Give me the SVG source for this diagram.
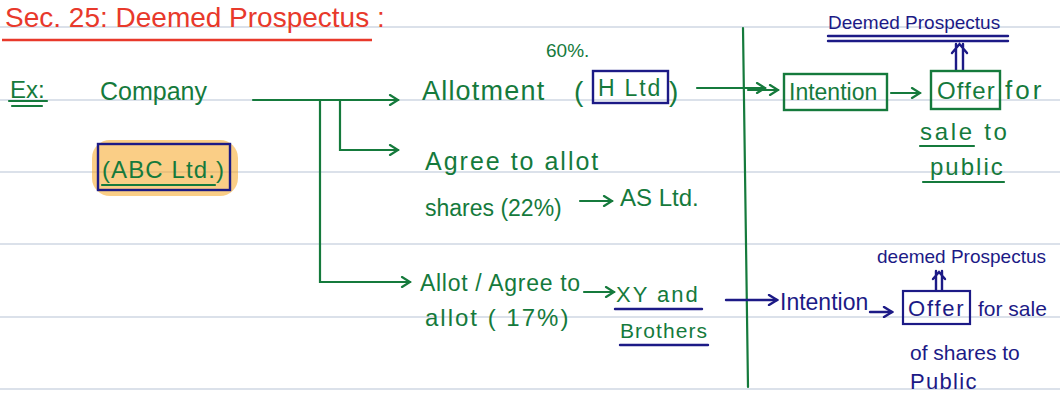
<svg xmlns="http://www.w3.org/2000/svg" width="1060" height="395" viewBox="0 0 1060 395">
<style>
.t{font-family:"Liberation Sans",Arial,sans-serif}
.g{fill:#157a3c}
.n{fill:#1c1a86}
.r{fill:#e8392b}
.gs{stroke:#157a3c;stroke-width:2.2;fill:none;stroke-linecap:round}
.ns{stroke:#1c1a86;stroke-width:2.4;fill:none;stroke-linecap:round}
.rule{stroke:#b7c3d6;stroke-width:1.2}
</style>
<defs>
<marker id="ag" markerWidth="12" markerHeight="12" refX="10" refY="6" orient="auto" markerUnits="userSpaceOnUse"><path d="M2,1 L10,6 L2,11" fill="none" stroke="#157a3c" stroke-width="2.2" stroke-linecap="round"/></marker>
<marker id="an" markerWidth="12" markerHeight="12" refX="10" refY="6" orient="auto" markerUnits="userSpaceOnUse"><path d="M2,1 L10,6 L2,11" fill="none" stroke="#1c1a86" stroke-width="2.4" stroke-linecap="round"/></marker>
</defs>
<rect width="1060" height="395" fill="#fff"/>
<g id="rules">
<line class="rule" x1="0" y1="27" x2="1060" y2="27"/>
<line class="rule" x1="0" y1="100" x2="1060" y2="100"/>
<line class="rule" x1="0" y1="172" x2="1060" y2="172"/>
<line class="rule" x1="0" y1="244" x2="1060" y2="244"/>
<line class="rule" x1="0" y1="317" x2="1060" y2="317"/>
<line class="rule" x1="0" y1="389" x2="1060" y2="389"/>
</g>
<g id="title">
<text class="t r" x="5" y="27" font-size="28">Sec. 25: Deemed Prospectus :</text>
<line x1="2" y1="40" x2="372" y2="40" stroke="#e8392b" stroke-width="2.4"/>
</g>
<g id="ex">
<text class="t g" x="10" y="98" font-size="24">Ex:</text>
<line class="gs" x1="9" y1="101" x2="47" y2="101"/>
<line class="gs" x1="12" y1="106" x2="42" y2="106"/>
</g>
<g id="company"><text class="t g" x="100" y="100" font-size="25">Company</text></g>
<g id="abc">
<rect x="92" y="140" width="146" height="56" rx="18" fill="#f5a623" opacity="0.55"/>
<rect x="98" y="144" width="132" height="46" fill="none" stroke="#1c1a86" stroke-width="2.4"/>
<text class="t g" x="102" y="178" font-size="24" letter-spacing="1.1">(ABC Ltd.)</text>
<line class="gs" x1="102" y1="185" x2="215" y2="185"/>
</g>
<g id="connectors">
<path class="gs" d="M253,100 H398" marker-end="url(#ag)"/>
<path class="gs" d="M340,100 V150 H398" marker-end="url(#ag)"/>
<path class="gs" d="M320,100 V282 H410" marker-end="url(#ag)"/>
<path class="gs" d="M697,88 H765" marker-end="url(#ag)"/>
<path class="gs" d="M580,201 H612" marker-end="url(#ag)"/>
<path class="gs" d="M584,292 H614" marker-end="url(#ag)"/>
<path class="gs" d="M743,28 L748,387"/>
<path class="gs" d="M748,90 H778" marker-end="url(#ag)"/>
<path class="gs" d="M891,93 H920" marker-end="url(#ag)"/>
<path class="ns" d="M726,300 H777" marker-end="url(#an)"/>
<path class="ns" d="M870,312 H892" marker-end="url(#an)"/>
<path class="ns" d="M956,70 V44 M963,70 V44 M952,53 L959.5,44 L967,53"/>
<path class="ns" d="M936,290 V271 M942,290 V271 M933,279 L939,272 L945,279"/>
</g>
<g id="allotment">
<text class="t g" x="422" y="100" font-size="27" letter-spacing="1.2">Allotment</text>
<text class="t g" x="546" y="57" font-size="19">60%.</text>
<text class="t g" x="574" y="101" font-size="28">(</text>
<rect x="593" y="71" width="75" height="32" fill="none" stroke="#1c1a86" stroke-width="2.4"/>
<text class="t g" x="598" y="96" font-size="23" letter-spacing="1.8">H Ltd</text>
<text class="t g" x="669" y="101" font-size="28">)</text>
</g>
<g id="agree">
<text class="t g" x="425" y="170" font-size="25" letter-spacing="2">Agree to allot</text>
<text class="t g" x="425" y="216" font-size="23">shares (22%)</text>
</g>
<g id="asltd"><text class="t g" x="620" y="206" font-size="24">AS Ltd.</text></g>
<g id="allot17">
<text class="t g" x="420" y="291" font-size="23" letter-spacing="0.7">Allot / Agree to</text>
<text class="t g" x="425" y="326" font-size="24" letter-spacing="2">allot ( 17%)</text>
</g>
<g id="xy">
<text class="t g" x="616" y="302" font-size="22" letter-spacing="2">XY and</text>
<line class="ns" x1="615" y1="309" x2="702" y2="309"/>
<text class="t g" x="620" y="338" font-size="21" letter-spacing="1.1">Brothers</text>
<line class="ns" x1="620" y1="345" x2="708" y2="345"/>
</g>
<g id="dp-top">
<text class="t n" x="828" y="29" font-size="19">Deemed Prospectus</text>
<line class="ns" x1="828" y1="36" x2="1008" y2="36"/>
<line class="ns" x1="828" y1="41" x2="1008" y2="41"/>
</g>
<g id="intention-top">
<rect x="784" y="74" width="103" height="36" fill="none" stroke="#157a3c" stroke-width="2.4"/>
<text class="t g" x="789" y="100" font-size="23">Intention</text>
</g>
<g id="offer-top">
<rect x="931" y="71" width="69" height="38" fill="none" stroke="#157a3c" stroke-width="2.4"/>
<text class="t g" x="937" y="99" font-size="24" letter-spacing="1.2">Offer</text>
<text class="t g" x="1005" y="99" font-size="26" letter-spacing="3">for</text>
<text class="t g" x="920" y="140" font-size="24" letter-spacing="2.7">sale to</text>
<line class="gs" x1="920" y1="146" x2="974" y2="146"/>
<text class="t g" x="930" y="175" font-size="24" letter-spacing="2">public</text>
<line class="gs" x1="923" y1="182" x2="1004" y2="182"/>
</g>
<g id="intention-bottom"><text class="t n" x="780" y="310" font-size="23">Intention</text></g>
<g id="offer-bottom">
<text class="t n" x="877" y="263" font-size="19">deemed Prospectus</text>
<rect x="903" y="291" width="67" height="33" fill="none" stroke="#1c1a86" stroke-width="2.2"/>
<text class="t n" x="908" y="316" font-size="22" letter-spacing="1.8">Offer</text>
<text class="t n" x="978" y="316" font-size="21">for sale</text>
<text class="t n" x="910" y="360" font-size="21">of shares to</text>
<text class="t n" x="910" y="389" font-size="22" letter-spacing="1.3">Public</text>
</g>
</svg>
